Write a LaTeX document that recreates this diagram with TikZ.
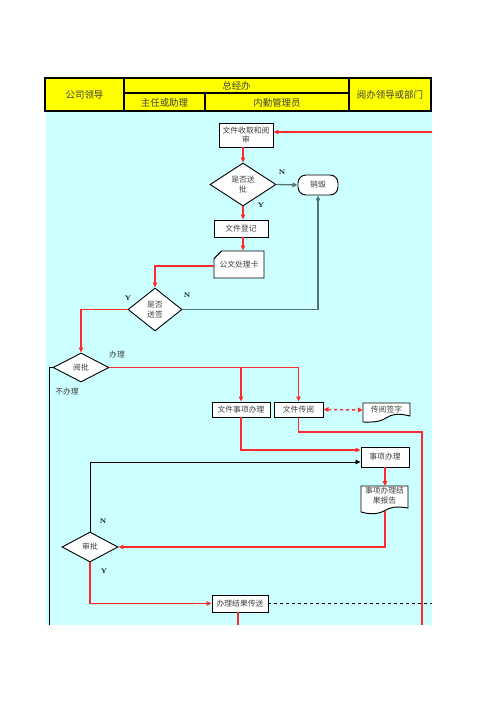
\documentclass[tikz,border=0pt]{standalone}
\usepackage{fontspec}
\newfontfamily\cjk{Noto Sans CJK SC}
\usetikzlibrary{shapes.geometric,shapes.misc,arrows.meta,calc}
\definecolor{bgc}{HTML}{CCFFFF}
\definecolor{hdr}{HTML}{FFFF00}
\definecolor{rl}{HTML}{FF2A2A}
\definecolor{gl}{HTML}{557575}
\definecolor{tx}{HTML}{404040}
\tikzset{
 box/.style={rectangle, draw=black, line width=0.95bp, fill=white, inner sep=0pt, font=\cjk\fontsize{7.8}{9.5}\selectfont, text=tx, align=center},
 plain/.style={rectangle, draw=none, inner sep=0pt, font=\cjk\fontsize{7.8}{9.5}\selectfont, text=tx, align=center},
 dia/.style={diamond, draw=black, line width=0.9bp, fill=white, inner sep=0pt, font=\cjk\fontsize{7.8}{9.5}\selectfont, text=tx, align=center},
 outl/.style={draw=black, line width=0.95bp, fill=white},
 tip/.style={-{Triangle[length=5bp,width=4.5bp]}},
 redln/.style={draw=rl, line width=1.6bp},
 redarr/.style={redln, tip},
 grayarr/.style={draw=gl, line width=1.3bp, tip},
 blk/.style={draw=black, line width=0.9bp},
 yn/.style={font=\bfseries\fontsize{6.5}{7}\selectfont, text=black, inner sep=0pt},
 lbl/.style={font=\cjk\fontsize{7.8}{9.5}\selectfont, text=tx, inner sep=0pt},
 hd/.style={font=\cjk\fontsize{9.5}{11}\selectfont, text=tx, inner sep=0pt},
}
\begin{document}
\begin{tikzpicture}[x=1bp,y=-1bp]
\fill[white] (0,0) rectangle (496,702);
\useasboundingbox (0,0) rectangle (496,702);
% background
\fill[bgc] (46,111) rectangle (432,625);
% header
\filldraw[fill=hdr, draw=black, line width=1.1bp] (45,78) rectangle (431,111);
\draw[black, line width=1.1bp] (124,78) -- (124,111) (349,78) -- (349,111) (124,93) -- (349,93) (205,93) -- (205,111);
\node[hd] (h1) at (84.5,95) {公司领导};
\node[hd] (h2) at (236.5,86) {总经办};
\node[hd] (h3) at (164.5,102.5) {主任或助理};
\node[hd] (h4) at (277,102.5) {内勤管理员};
\node[hd] (h5) at (390,95) {阅办领导或部门};
% nodes
\node[box, minimum width=54bp, minimum height=24bp] (recv) at (246,135) {文件收取和阅\\审};
\node[dia, minimum width=66bp, minimum height=43bp] (q1) at (243,184.5) {是否送\\批};
\node[box, rounded corners=8bp, minimum width=40bp, minimum height=20bp] (destroy) at (318,185) {销毁};
\node[box, minimum width=54bp, minimum height=17bp] (reg) at (241,228.5) {文件登记};
\node[box, chamfered rectangle, chamfered rectangle corners=north west, chamfered rectangle xsep=9bp, chamfered rectangle ysep=4bp, minimum width=50bp, minimum height=27bp] (card) at (239,264.5) {公文处理卡};
\node[dia, minimum width=54bp, minimum height=43bp] (q2) at (155,309.5) {是否\\送签};
\node[dia, minimum width=56bp, minimum height=29bp] (yp) at (81,367.5) {阅批};
\node[box, minimum width=58bp, minimum height=15bp] (doit) at (241,409.5) {文件事项办理};
\node[box, minimum width=49bp, minimum height=15bp] (circ) at (298.5,409.5) {文件传阅};
% document shape: 传阅签字
\filldraw[outl] (363,403) -- (410,403) -- (410,416) .. controls (398,413) and (392,414) .. (386,418) .. controls (378,423) and (370,422) .. (363,422) -- cycle;
\node[plain, minimum width=47bp, minimum height=14bp] (sign) at (386.5,410) {传阅签字};
\node[box, minimum width=48bp, minimum height=20bp] (proc) at (385,457) {事项办理};
% document shape: 事项办理结果报告
\filldraw[outl] (361,486) -- (408,486) -- (408,508) .. controls (396,506) and (390,507) .. (384,511) .. controls (376,515) and (368,514) .. (361,512) -- cycle;
\node[plain, minimum width=47bp, minimum height=20bp] (report) at (384.5,495.5) {事项办理结\\果报告};
\coordinate (repb) at (385,511);
\node[dia, minimum width=56bp, minimum height=30bp] (sp) at (90,547) {审批};
\node[box, minimum width=56bp, minimum height=17bp] (send) at (240,603.5) {办理结果传送};
% free ends
\coordinate (inR) at (432,132);
\coordinate (endL) at (49,625);
\coordinate (cR) at (422,432);
\coordinate (endR) at (422,625);
\coordinate (dashR) at (432,603.5);
\coordinate (endS) at (238,625);
% connectors
\draw[redarr] (inR) -- (inR -| recv.east);
\draw[redarr] (q1.north |- recv.south) -- (q1.north);
\draw[grayarr] (q1.east) -- (destroy.west);
\draw[redarr] (q1.south) -- (q1.south |- reg.north);
\draw[redarr] (q1.south |- reg.south) -- (q1.south |- card.north);
\draw[redarr] ($(card.west)+(0,1.5)$) -| (q2.north);
\draw[grayarr] (q2.east) -| (destroy.south);
\draw[redarr] (q2.west) -| (yp.north);
\draw[blk] (yp.west) -| (endL);
\draw[redarr] (yp.east) -| (circ.north);
\draw[redarr] (yp.east -| doit.north) -- (doit.north);
\draw[draw=rl, line width=1.4bp, dashed, {Triangle[length=5bp,width=4.5bp]}-{Triangle[length=5bp,width=4.5bp]}] (circ.east) -- (sign.west);
\draw[redln] (circ.south) |- (cR) -- (endR);
\draw[redarr] (doit.south) |- ($(proc.west)+(0,-7)$);
\draw[blk, tip] (sp.north) |- ($(proc.west)+(0,5)$);
\draw[redarr] (proc.south) -- (proc.south |- 0,486);
\draw[redarr] (repb) |- (sp.east);
\draw[redarr] (sp.south) |- (send.west);
\draw[blk, dashed] (send.east) -- (dashR);
\draw[redln] (send.south -| endS) -- (endS);
% labels
\node[yn] (n1) at (282,172) {N};
\node[yn] (y1) at (261,205) {Y};
\node[yn] (y2) at (128,298) {Y};
\node[yn] (n2) at (187,295) {N};
\node[lbl] (l1) at (117,355) {办理};
\node[lbl] (l2) at (67,392) {不办理};
\node[yn] (n3) at (103,521) {N};
\node[yn] (y3) at (104,571) {Y};
\end{tikzpicture}
\end{document}
